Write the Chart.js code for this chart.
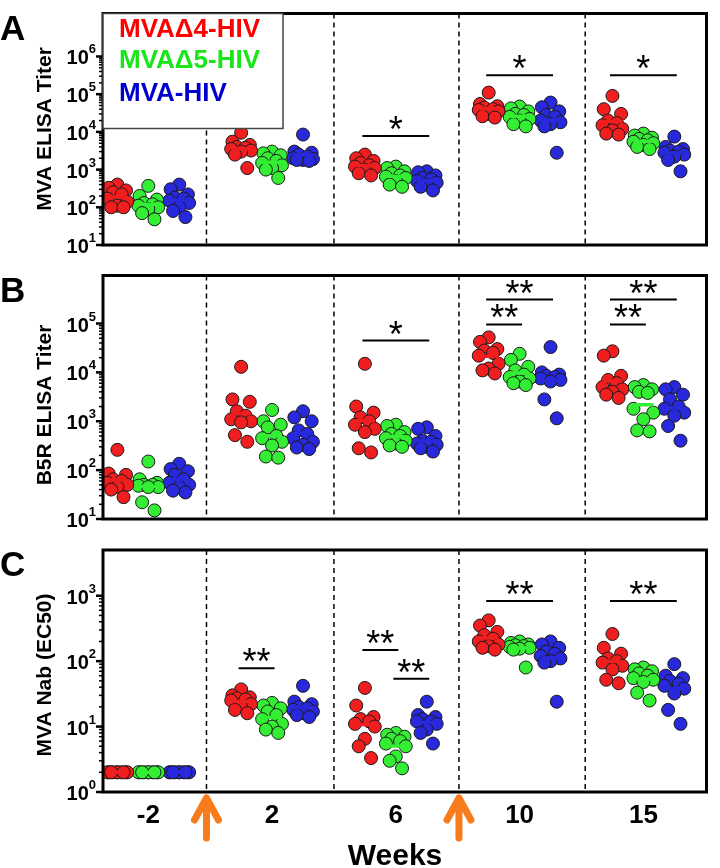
<!DOCTYPE html>
<html>
<head>
<meta charset="utf-8">
<script src="https://cdn.jsdelivr.net/npm/chart.js@4"></script>
<style>
  body { margin: 0; background: #fff; width: 720px; height: 868px; position: relative; overflow: hidden; }
  canvas { position: absolute; left: 0; }
</style>
</head>
<body>
<canvas id="panelA" width="720" height="262" style="top:0px"></canvas>
<canvas id="panelB" width="720" height="273" style="top:262px"></canvas>
<canvas id="panelC" width="720" height="333" style="top:535px"></canvas>
<script>
const weeks = ['-2', '2', '6', '10', '15'];
const groups = ['MVA\u03944-HIV', 'MVA\u03945-HIV', 'MVA-HIV'];
const dotColors = ['#f01e1e', '#33ee33', '#2828dd'];
const textColors = ['#ff0000', '#19e619', '#0000cc'];

// A: MVA ELISA titer (one row per week)
const elisaD4 = [
  [400, 330, 280, 250, 220, 170, 140, 110, 100, 100],
  [9500, 5500, 4500, 4000, 3800, 3500, 3200, 3000, 2500, 1100],
  [2500, 2000, 1700, 1500, 1300, 1200, 1100, 1000, 800, 700],
  [110000, 55000, 48000, 44000, 40000, 38000, 35000, 30000, 26000, 24000],
  [90000, 40000, 30000, 20000, 17000, 15000, 12000, 11000, 9000, 8500]
];
const elisaD5 = [
  [370, 200, 160, 130, 120, 110, 100, 90, 70, 48],
  [3000, 2700, 2400, 2000, 1700, 1500, 1300, 1100, 1000, 600],
  [1200, 1100, 900, 800, 700, 650, 600, 500, 400, 350],
  [47000, 42000, 35000, 30000, 28000, 25000, 22000, 20000, 16000, 14000],
  [9000, 8000, 7000, 6500, 6000, 5500, 5000, 4500, 4000, 3500]
];
const elisaMva = [
  [400, 300, 220, 180, 170, 150, 130, 100, 80, 55],
  [8500, 3000, 2800, 2500, 2200, 2000, 1900, 1800, 1800, 1700],
  [900, 850, 700, 600, 550, 500, 450, 400, 350, 280],
  [60000, 45000, 35000, 28000, 25000, 20000, 18000, 16000, 14000, 2800],
  [7500, 4000, 3500, 3200, 3000, 2800, 2500, 2200, 1800, 900]
];

// B: B5R ELISA titer
const b5rD4 = [
  [260, 85, 80, 65, 60, 55, 50, 45, 40, 28],
  [13000, 2800, 2500, 1600, 1300, 1100, 1000, 950, 520, 380],
  [15000, 2000, 1500, 1200, 1000, 850, 700, 600, 280, 230],
  [52000, 42000, 30000, 28000, 25000, 22000, 15000, 12000, 11000, 9500],
  [27000, 22000, 8500, 7000, 6000, 5000, 4500, 4000, 3500, 3000]
];
const b5rD5 = [
  [150, 65, 55, 50, 50, 48, 45, 45, 22, 15],
  [1700, 1000, 850, 750, 500, 450, 380, 320, 190, 180],
  [850, 800, 600, 550, 500, 450, 400, 350, 320, 300],
  [24000, 18000, 13000, 11000, 9000, 8000, 7500, 6500, 6000, 5500],
  [5500, 5000, 4500, 4000, 3800, 1800, 1500, 1100, 650, 620]
];
const b5rMva = [
  [135, 105, 95, 80, 65, 55, 50, 45, 38, 35],
  [1600, 1200, 1000, 650, 550, 450, 380, 330, 290, 270],
  [750, 700, 500, 400, 380, 350, 330, 300, 280, 240],
  [33000, 10000, 9000, 8500, 8000, 7500, 7000, 6500, 2800, 1150],
  [5000, 4500, 3500, 2800, 2000, 1800, 1500, 1300, 800, 400]
];

// C: MVA Nab (EC50)
const nabD4 = [
  [2, 2, 2, 2, 2, 2, 2, 2, 2, 2],
  [37, 30, 28, 27, 26, 25, 22, 20, 18, 16],
  [39, 21, 14, 13, 12, 11, 10, 6.5, 5, 3.3],
  [420, 350, 280, 250, 220, 200, 180, 170, 160, 150],
  [260, 160, 130, 110, 100, 95, 85, 75, 52, 46]
];
const nabD5 = [
  [2, 2, 2, 2, 2, 2, 2, 2, 2, 2],
  [23, 21, 19, 17, 15, 13, 11, 10, 9, 8],
  [8, 7.5, 7, 6.5, 6, 5.5, 5, 3.5, 3, 2.3],
  [200, 190, 180, 175, 170, 165, 160, 155, 150, 80],
  [80, 75, 70, 65, 60, 55, 52, 48, 33, 25]
];
const nabMva = [
  [2, 2, 2, 2, 2, 2, 2, 2, 2, 2],
  [42, 24, 22, 20, 19, 18, 17, 16, 15, 14],
  [24, 15, 14, 13, 12, 12, 11, 9, 8, 5.5],
  [200, 180, 160, 140, 130, 120, 110, 100, 95, 24],
  [90, 60, 55, 50, 45, 42, 38, 32, 18, 11]
];

// significance bars: week index, from/to group, height, label
const sigA = [
  { week: 2, from: 0, to: 2, y: 7800, text: '*' },
  { week: 3, from: 0, to: 2, y: 316000, text: '*' },
  { week: 4, from: 0, to: 2, y: 316000, text: '*' }
];
const sigB = [
  { week: 2, from: 0, to: 2, y: 44700, text: '*' },
  { week: 3, from: 0, to: 2, y: 309000, text: '**' },
  { week: 3, from: 0, to: 1, y: 95500, text: '**' },
  { week: 4, from: 0, to: 2, y: 309000, text: '**' },
  { week: 4, from: 0, to: 1, y: 95500, text: '**' }
];
const sigC = [
  { week: 1, from: 0, to: 1, y: 78, text: '**' },
  { week: 2, from: 0, to: 1, y: 148, text: '**' },
  { week: 2, from: 1, to: 2, y: 54, text: '**' },
  { week: 3, from: 0, to: 2, y: 830, text: '**' },
  { week: 4, from: 0, to: 2, y: 830, text: '**' }
];

const separators = [0.47, 1.5, 2.51, 3.53];
const spread = [0, -0.07, 0.07, -0.035, 0.035, -0.08, 0.08, 0, -0.05, 0.05];
const groupStep = 0.25;
const FONT = '"Liberation Sans", Arial, sans-serif';

function geoMean(arr) {
  return Math.exp(arr.reduce((s, v) => s + Math.log(v), 0) / arr.length);
}

function makeDatasets(series) {
  const sets = [];
  series.forEach((vals, g) => {
    sets.push({
      label: groups[g],
      data: weeks.flatMap((w, wi) => vals[wi].map((v, k) => ({ x: wi + (g - 1) * groupStep + spread[k], y: v }))),
      backgroundColor: dotColors[g],
      borderColor: '#1a1a1a',
      borderWidth: 1,
      pointRadius: 6.5,
      order: 1
    });
    sets.push({
      label: groups[g] + ' mean',
      data: weeks.map((w, wi) => ({ x: wi + (g - 1) * groupStep, y: geoMean(vals[wi]) })),
      pointStyle: 'line',
      pointRadius: 10,
      borderWidth: 3.5,
      borderColor: dotColors[g],
      order: 0
    });
  });
  return sets;
}

function starText(ctx, text, cx, cy) {
  ctx.font = '36px ' + FONT;
  ctx.textAlign = 'center';
  ctx.textBaseline = 'alphabetic';
  const m = ctx.measureText(text);
  const base = cy + (m.actualBoundingBoxAscent - m.actualBoundingBoxDescent) / 2;
  ctx.fillText(text, cx, base);
}

const panelPlugin = {
  id: 'panel',
  afterDraw(chart, args, o) {
    const ctx = chart.ctx, a = chart.chartArea;
    const xs = chart.scales.x, ys = chart.scales.y;
    ctx.save();
    ctx.fillStyle = '#000';
    ctx.strokeStyle = '#000';

    // dashed week separators
    ctx.lineWidth = 1.5;
    ctx.setLineDash([5, 4]);
    separators.forEach(s => {
      const px = xs.getPixelForValue(s);
      ctx.beginPath(); ctx.moveTo(px, a.top); ctx.lineTo(px, a.bottom); ctx.stroke();
    });
    ctx.setLineDash([]);

    // frame
    ctx.lineWidth = 3;
    ctx.strokeRect(a.left, a.top, a.right - a.left, a.bottom - a.top);

    // log ticks and labels
    for (let e = o.lo; e <= o.hi; e++) {
      const py = ys.getPixelForValue(Math.pow(10, e));
      ctx.lineWidth = 2.5;
      ctx.beginPath(); ctx.moveTo(a.left - 7, py); ctx.lineTo(a.left, py); ctx.stroke();
      if (e < o.hi) {
        ctx.lineWidth = 1.5;
        for (let m = 2; m <= 9; m++) {
          const pm = ys.getPixelForValue(m * Math.pow(10, e));
          ctx.beginPath(); ctx.moveTo(a.left - 4, pm); ctx.lineTo(a.left, pm); ctx.stroke();
        }
      }
      ctx.textAlign = 'right';
      ctx.textBaseline = 'alphabetic';
      ctx.font = 'bold 13px ' + FONT;
      const expW = ctx.measureText(String(e)).width;
      ctx.fillText(String(e), a.left - 7, py - 3);
      ctx.font = 'bold 20px ' + FONT;
      ctx.fillText('10', a.left - 7 - expW, py + 8);
    }

    // axis title
    ctx.save();
    ctx.translate(45, o.titleY);
    ctx.rotate(-Math.PI / 2);
    ctx.font = 'bold 21px ' + FONT;
    ctx.textAlign = 'center';
    ctx.textBaseline = 'middle';
    ctx.fillText(o.title, 0, 0);
    ctx.restore();

    // panel letter
    ctx.font = 'bold 35px ' + FONT;
    ctx.textAlign = 'left';
    ctx.textBaseline = 'alphabetic';
    ctx.fillText(o.letter, 0, a.top + 26);

    // significance bars
    o.sig.forEach(s => {
      const x1 = xs.getPixelForValue(s.week + (s.from - 1) * groupStep - 0.02);
      const x2 = xs.getPixelForValue(s.week + (s.to - 1) * groupStep + 0.02);
      const py = ys.getPixelForValue(s.y);
      ctx.lineWidth = 2;
      ctx.beginPath(); ctx.moveTo(x1, py); ctx.lineTo(x2, py); ctx.stroke();
      starText(ctx, s.text, (x1 + x2) / 2, py - 13);
    });

    // legend
    if (o.legend) {
      ctx.fillStyle = '#fff';
      ctx.fillRect(a.left, a.top, 180, 115);
      ctx.strokeStyle = '#444';
      ctx.lineWidth = 1.5;
      ctx.strokeRect(a.left, a.top, 180, 115);
      ctx.font = 'bold 26px ' + FONT;
      ctx.textAlign = 'left';
      [37, 68, 101].forEach((by, i) => {
        ctx.fillStyle = textColors[i];
        ctx.fillText(groups[i], 119, by);
      });
    }

    // week labels, arrows
    if (o.xAxis) {
      ctx.fillStyle = '#000';
      ctx.font = 'bold 26px ' + FONT;
      ctx.textAlign = 'center';
      weeks.forEach((w, wi) => ctx.fillText(w, xs.getPixelForValue(wi), a.bottom + 31));
      ctx.font = 'bold 30px ' + FONT;
      ctx.fillText('Weeks', 395, a.bottom + 73);
      ctx.strokeStyle = '#f87b1c';
      ctx.lineWidth = 7;
      ctx.lineCap = 'round';
      ctx.lineJoin = 'round';
      o.arrows.forEach(v => {
        const px = xs.getPixelForValue(v);
        ctx.beginPath();
        ctx.moveTo(px, a.bottom + 46); ctx.lineTo(px, a.bottom + 6);
        ctx.moveTo(px - 12, a.bottom + 28); ctx.lineTo(px, a.bottom + 6); ctx.lineTo(px + 12, a.bottom + 28);
        ctx.stroke();
      });
    }
    ctx.restore();
  }
};

function makeChart(id, series, yMin, yMax, padding, panel) {
  return new Chart(document.getElementById(id), {
    type: 'scatter',
    data: { datasets: makeDatasets(series) },
    options: {
      responsive: false,
      animation: false,
      events: [],
      layout: { padding: padding },
      scales: {
        x: { type: 'linear', min: -0.366, max: 4.51, display: false },
        y: { type: 'logarithmic', min: yMin, max: yMax, display: false }
      },
      plugins: {
        legend: { display: false },
        tooltip: { enabled: false },
        panel: panel
      }
    },
    plugins: [panelPlugin]
  });
}

makeChart('panelA', [elisaD4, elisaD5, elisaMva], 10, 1.38e7,
  { left: 103, right: 4, top: 3, bottom: 17 },
  { letter: 'A', title: 'MVA ELISA Titer', titleY: 129, lo: 1, hi: 6, sig: sigA, legend: true });

makeChart('panelB', [b5rD4, b5rD5, b5rMva], 10, 9.6e5,
  { left: 103, right: 4, top: 13, bottom: 16 },
  { letter: 'B', title: 'B5R ELISA Titer', titleY: 143, lo: 1, hi: 5, sig: sigB });

makeChart('panelC', [nabD4, nabD5, nabMva], 1, 5000,
  { left: 103, right: 4, top: 15, bottom: 76 },
  { letter: 'C', title: 'MVA Nab (EC50)', titleY: 140, lo: 0, hi: 3, sig: sigC, xAxis: true, arrows: [0.47, 2.51] });
</script>
</body>
</html>
